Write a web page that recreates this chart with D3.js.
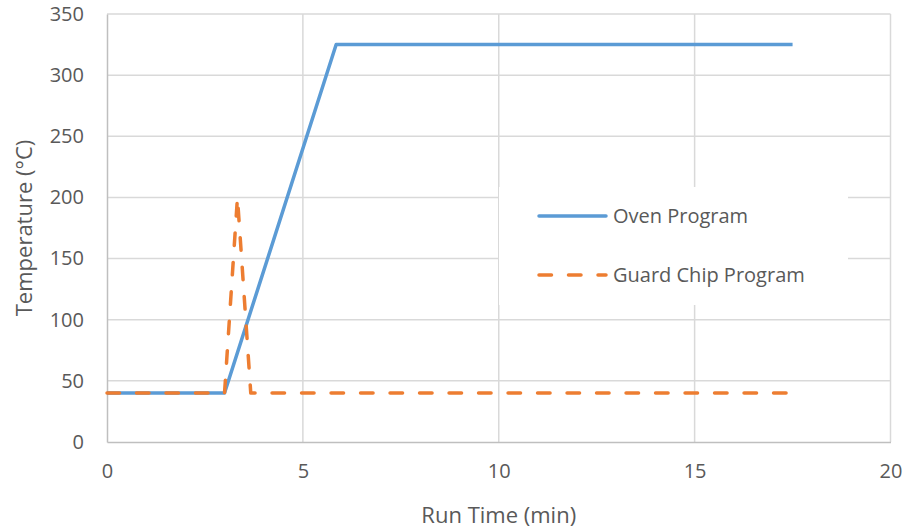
<!DOCTYPE html>
<html>
<head>
<meta charset="utf-8">
<script src="https://cdn.jsdelivr.net/npm/d3@7"></script>
<style>
  html, body { margin: 0; padding: 0; background: #fff; }
  svg text { font-family: "Open Sans", "Noto Sans", sans-serif; fill: #595959; }
</style>
</head>
<body>
<svg id="chart" width="907" height="530"></svg>
<script>
// Oven temperature program (time in min, temperature in °C)
const ovenTime = [0, 3, 5.85, 17.5];
const ovenTemp = [40, 40, 325, 325];

// Guard chip temperature program
const chipTime = [0, 3, 3.33, 3.67, 17.5];
const chipTemp = [40, 40, 200, 40, 40];

const xTicks = [0, 5, 10, 15, 20];
const yTicks = [0, 50, 100, 150, 200, 250, 300, 350];
const seriesNames = ["Oven Program", "Guard Chip Program"];
const seriesColors = ["#5B9BD5", "#ED7D31"];

const svg = d3.select("#chart");
const margin = { left: 107, right: 16, top: 14, bottom: 88 };
const W = 907, H = 530;

const x = d3.scaleLinear().domain([0, 20]).range([margin.left, W - margin.right - 0.5]);
const y = d3.scaleLinear().domain([0, 350]).range([H - margin.bottom, margin.top]);

// Gridlines
const grid = svg.append("g");
grid.selectAll("line.h").data(yTicks.filter(d => d > 0)).join("line")
  .attr("x1", x(0)).attr("x2", x(20))
  .attr("y1", d => y(d)).attr("y2", d => y(d))
  .attr("stroke", "#d9d9d9").attr("stroke-width", 1.5);
grid.selectAll("line.v").data(xTicks.filter(d => d > 0)).join("line")
  .attr("y1", y(0)).attr("y2", y(350))
  .attr("x1", d => x(d)).attr("x2", d => x(d))
  .attr("stroke", "#d9d9d9").attr("stroke-width", 1.5);

// Axes
const xAxis = svg.append("g").attr("transform", `translate(0,${y(0)})`)
  .call(d3.axisBottom(x).tickValues(xTicks).tickSize(0).tickPadding(22));
const yAxis = svg.append("g").attr("transform", `translate(${x(0)},0)`)
  .call(d3.axisLeft(y).tickValues(yTicks).tickSize(0).tickPadding(23));
[xAxis, yAxis].forEach(a => {
  a.select(".domain").attr("stroke", "#bfbfbf").attr("stroke-width", 1.5);
  a.selectAll("text").style("font-size", "20px").attr("fill", "#595959");
});

// Axis titles
svg.append("text").attr("x", x(10)).attr("y", 523)
  .attr("text-anchor", "middle").style("font-size", "22px").text("Run Time (min)");
svg.append("text")
  .attr("transform", `translate(32,${(y(0) + y(350)) / 2}) rotate(-90)`)
  .attr("text-anchor", "middle").style("font-size", "22px").text("Temperature (°C)");

// Series
const line = d3.line().x(d => x(d[0])).y(d => y(d[1]));
const oven = ovenTime.map((t, i) => [t, ovenTemp[i]]);
const chip = chipTime.map((t, i) => [t, chipTemp[i]]);

svg.append("path").datum(oven).attr("d", line)
  .attr("fill", "none").attr("stroke", seriesColors[0])
  .attr("stroke-width", 3.5).attr("stroke-linejoin", "round");
svg.append("path").datum(chip).attr("d", line)
  .attr("fill", "none").attr("stroke", seriesColors[1])
  .attr("stroke-width", 3.5).attr("stroke-linejoin", "round")
  .attr("stroke-linecap", "round").attr("stroke-dasharray", "12.5,17");

// Legend
const legend = svg.append("g");
legend.append("rect").attr("x", 499).attr("y", 187).attr("width", 349).attr("height", 118)
  .attr("fill", "#fff");
seriesNames.forEach((name, i) => {
  const ly = 216 + i * 59;
  const l = legend.append("line").attr("x1", 539).attr("x2", 606)
    .attr("y1", ly).attr("y2", ly)
    .attr("stroke", seriesColors[i]).attr("stroke-width", 3.5).attr("stroke-linecap", "round");
  if (i === 1) l.attr("stroke-dasharray", "12.5,17");
  legend.append("text").attr("x", 613).attr("y", ly + 7)
    .style("font-size", "20px").text(name);
});
</script>
</body>
</html>
